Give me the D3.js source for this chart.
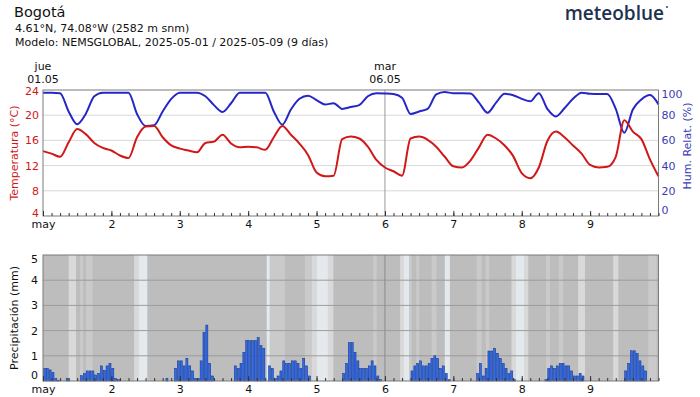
<!DOCTYPE html>
<html>
<head>
<meta charset="utf-8">
<script src="https://cdn.jsdelivr.net/npm/d3@7"></script>
<style>
  body { margin: 0; background: #fff; }
  svg text { font-family: "DejaVu Sans", sans-serif; }
</style>
</head>
<body>
<div id="chart"></div>
<script>
// header texts
var title = "Bogotá";
var subLines = ["4.61°N, 74.08°W (2582 m snm)", "Modelo: NEMSGLOBAL, 2025-05-01 / 2025-05-09 (9 días)"];

// x axis: 9 days, hours 0..216
var dayLabels = ["may", "2", "3", "4", "5", "6", "7", "8", "9"];
var markHours = [0, 120];
var markLabels = [["jue", "01.05"], ["mar", "06.05"]];

// temperature (°C) and humidity (%) every 3 hours
var tempC = [14.3, 13.9, 13.4, 15.7, 17.8, 17.0, 15.6, 14.8,
  14.4, 13.6, 13.2, 16.5, 18.2, 18.3, 16.5, 15.2,
  14.7, 14.4, 14.1, 15.6, 15.8, 16.9, 15.5, 14.9,
  15.0, 14.9, 14.5, 16.5, 18.3, 16.9, 15.5, 13.7,
  10.9, 10.3, 10.4, 16.2, 16.6, 16.3, 15.0, 12.9,
  11.7, 11.1, 10.4, 16.3, 16.6, 16.1, 15.0, 13.4,
  11.9, 11.7, 12.8, 14.9, 16.9, 16.3, 15.2, 13.5,
  10.8, 10.0, 11.7, 15.9, 17.4, 16.5, 15.2, 13.9,
  12.1, 11.7, 11.8, 13.4, 19.2, 17.4, 16.2, 13.0,
  10.3];
var humidity = [97.9, 97.9, 97.5, 83, 72.8, 81, 95, 97.9,
  97.9, 97.9, 97.9, 81, 71.4, 72, 83, 93,
  97.9, 97.9, 97.9, 95, 88, 82.5, 89.5, 97.9,
  97.9, 97.9, 97.9, 83, 72.5, 84.5, 93, 95.5,
  92, 88.5, 89.5, 85, 86.5, 88, 95, 97.4,
  97.2, 96.8, 93.9, 81, 83, 85, 96.5, 98.4,
  97.4, 97.4, 97.2, 90, 82, 90, 97, 95.8,
  93, 91, 97.5, 85, 79, 85.5, 93, 97.9,
  97, 96.8, 96.8, 85, 66, 84.5, 92.5, 96,
  88.6];

// hourly precipitation (mm), one row per day
var precip = [].concat(
  [0.5, 0.5, 0.44, 0.33, 0.1, 0.03, 0, 0, 0.1, 0, 0, 0, 0, 0.21, 0.3, 0.4, 0.4, 0.4, 0.24, 0.3, 0.6, 0.42, 0.6, 0.7],
  [0.5, 0.1, 0.05, 0, 0, 0, 0, 0, 0, 0, 0, 0, 0, 0, 0, 0, 0, 0, 0, 0.1, 0, 0, 0.5, 0.8],
  [0.8, 0.6, 0.9, 0.6, 0.4, 0.1, 0.1, 0.8, 1.93, 2.22, 0.7, 0.2, 0, 0, 0, 0, 0, 0, 0, 0.6, 0.5, 0.7, 1.14, 1.6],
  [1.6, 1.6, 1.6, 1.72, 1.4, 1.3, 0, 0.6, 0.5, 0.1, 0.2, 0.4, 0.8, 0.7, 0.7, 0.8, 0.8, 0.7, 0.5, 0.9, 0.6, 0.2, 0, 0],
  [0, 0, 0, 0, 0, 0, 0, 0, 0, 0.3, 0.7, 1.52, 1.52, 1.14, 0.8, 0.5, 0.5, 0.5, 0.6, 0.8, 0.6, 0.2, 0.05, 0],
  [0, 0, 0, 0, 0, 0, 0, 0, 0, 0.4, 0.6, 0.7, 0.8, 0.6, 0.6, 0.7, 0.9, 1.0, 0.9, 0.5, 0.6, 0.3, 0.05, 0],
  [0, 0, 0, 0, 0, 0, 0, 0, 0.3, 0.7, 0.2, 0.5, 1.19, 1.19, 1.3, 1.1, 0.9, 0.7, 0.5, 0.3, 0.4, 0.05, 0, 0],
  [0, 0, 0, 0, 0, 0, 0, 0, 0.05, 0.5, 0.6, 0.5, 0.6, 0.7, 0.7, 0.6, 0.6, 0.4, 0.2, 0.2, 0.3, 0.2, 0, 0],
  [0, 0, 0, 0, 0, 0, 0, 0, 0, 0, 0, 0, 0.4, 0.7, 1.2, 1.2, 1.1, 0.8, 0.6, 0.4, 0, 0, 0, 0]
);

// sunny spells behind precipitation (hour from, hour to, brightness 1..3)
var sunFrom = [9, 13, 15.1, 32, 33.5, 78.5, 79.6, 91.9, 94.3, 96, 100, 115.9, 125.3, 126.5, 128.5, 131, 136.4, 141, 152.2, 155.4, 164.4, 166, 169, 176.5, 181, 187.8, 200.1, 212.4];
var sunTo = [11.6, 14.1, 17.4, 33.5, 36.6, 79.6, 84.9, 94.3, 96, 100, 101.9, 117.1, 126.5, 128.5, 129.4, 132, 138.1, 142.8, 153.9, 156.6, 166, 169, 170.3, 177.9, 182.5, 190.2, 201.9, 215.3];
var sunLevel = [2, 1, 1, 2, 3, 3, 1, 1, 2, 3, 2, 1, 2, 3, 1, 1, 1, 3, 1, 1, 2, 3, 2, 1, 1, 2, 2, 1];

var tempTicks = [4, 8, 12, 16, 20, 24];
var humTicks = [0, 20, 40, 60, 80, 100];
var precipTicks = [0, 1, 2, 3, 4, 5];

var svgWidth = 700;
var svgHeight = 397;
var red = "#d01818";
var blue = "#2626c8";
var shades = ["#bdbdbd", "#cacaca", "#d9d9d9", "#e4e9ee"];

var svg = d3.select("#chart")
  .append("svg")
  .attr("width", svgWidth)
  .attr("height", svgHeight);

// header
svg.append("text").attr("x", 14).attr("y", 17).attr("font-size", "14.5px").attr("fill", "#111").text(title);
subLines.forEach(function (s, i) {
  svg.append("text").attr("x", 15).attr("y", 32 + i * 13.5).attr("font-size", "11px").attr("fill", "#111").text(s);
});
svg.append("text").attr("x", 664).attr("y", 20).attr("text-anchor", "end")
  .attr("font-size", "19px").attr("font-weight", 600)
  .style("font-family", "'Open Sans', Lato, sans-serif")
  .attr("fill", "#1d3150").text("meteoblue");
svg.append("circle").attr("cx", 667).attr("cy", 7).attr("r", 0.9).attr("fill", "#1d3150");

var x = d3.scaleLinear().domain([0, 216]).range([43, 658.5]);
var yT = d3.scaleLinear().domain([4, 24]).range([216, 90]);
var yH = d3.scaleLinear().domain([0, 100]).range([216, 90]);
var yP = d3.scaleLinear().domain([0, 5]).range([381, 255]);

function timeAxes(y0) {
  svg.append("g")
    .attr("transform", `translate(0, ${y0})`)
    .call(d3.axisBottom(x).tickValues(d3.range(0, 217, 3)).tickSize(-3).tickFormat(""))
    .call(g => g.select(".domain").remove())
    .call(g => g.selectAll("line").attr("stroke", "#333"));
  svg.append("g")
    .attr("transform", `translate(0, ${y0})`)
    .call(d3.axisBottom(x).tickValues(d3.range(0, 216, 24)).tickSize(-5).tickPadding(4)
      .tickFormat((d, i) => dayLabels[i]))
    .call(g => g.select(".domain").remove())
    .call(g => g.selectAll("line").attr("stroke", "#333"))
    .call(g => g.selectAll("text").attr("font-size", "11px").attr("fill", "#111")
      .style("font-family", "'DejaVu Sans', sans-serif"));
}

// ---------- top chart: temperature & humidity ----------
var topG = svg.append("g");
topG.selectAll(".grid").data(tempTicks.slice(1, -1)).enter().append("line")
  .attr("x1", x(0)).attr("x2", x(216))
  .attr("y1", d => yT(d)).attr("y2", d => yT(d))
  .attr("stroke", "#d8d8d8");
topG.append("line")
  .attr("x1", x(120)).attr("x2", x(120)).attr("y1", yT(24)).attr("y2", yT(4))
  .attr("stroke", "#9a9a9a");

markHours.forEach(function (h, i) {
  svg.append("text").attr("x", x(h)).attr("y", 70).attr("text-anchor", "middle")
    .attr("font-size", "11px").attr("fill", "#111").text(markLabels[i][0]);
  svg.append("text").attr("x", x(h)).attr("y", 83).attr("text-anchor", "middle")
    .attr("font-size", "11px").attr("fill", "#111").text(markLabels[i][1]);
});

var lineT = d3.line().x((d, i) => x(i * 3)).y(d => yT(d)).curve(d3.curveMonotoneX);
var lineH = d3.line().x((d, i) => x(i * 3)).y(d => yH(d)).curve(d3.curveMonotoneX);
topG.append("path").datum(humidity).attr("d", lineH)
  .attr("fill", "none").attr("stroke", blue).attr("stroke-width", 2);
topG.append("path").datum(tempC).attr("d", lineT)
  .attr("fill", "none").attr("stroke", red).attr("stroke-width", 2);

topG.append("rect").attr("x", x(0)).attr("y", yT(24)).attr("width", x(216) - x(0)).attr("height", yT(4) - yT(24))
  .attr("fill", "none").attr("stroke", "#7a7a7a");

svg.append("g").attr("transform", `translate(${x(0)}, 0)`)
  .call(d3.axisLeft(yT).tickValues(tempTicks).tickSize(0).tickPadding(4))
  .call(g => g.select(".domain").remove())
  .call(g => g.selectAll("text").attr("font-size", "11px").attr("fill", red)
    .style("font-family", "'DejaVu Sans', sans-serif")
    .attr("dy", d => d === 24 ? "0.42em" : d === 4 ? "0.08em" : "0.32em"));

svg.append("g").attr("transform", `translate(${x(216)}, 0)`)
  .call(d3.axisRight(yH).tickValues(humTicks).tickSize(0).tickPadding(3))
  .call(g => g.select(".domain").remove())
  .call(g => g.selectAll("text").attr("font-size", "11px").attr("fill", "#3b3bb4")
    .style("font-family", "'DejaVu Sans', sans-serif")
    .attr("dy", d => d === 100 ? "0.7em" : d === 0 ? "-0.2em" : "0.32em"));

timeAxes(yT(4));

svg.append("text").attr("transform", "translate(18, 153) rotate(-90)")
  .attr("text-anchor", "middle").attr("font-size", "11px").attr("fill", red).text("Temperatura (°C)");
svg.append("text").attr("transform", "translate(691, 146) rotate(-90)")
  .attr("text-anchor", "middle").attr("font-size", "11px").attr("fill", "#3b3bb4").text("Hum. Relat. (%)");

// ---------- bottom chart: precipitation ----------
var bot = svg.append("g");
bot.append("rect").attr("x", x(0)).attr("y", yP(5)).attr("width", x(216) - x(0)).attr("height", yP(0) - yP(5))
  .attr("fill", shades[0]);
bot.selectAll(".sun").data(sunFrom).enter().append("rect")
  .attr("x", (d, i) => x(d)).attr("width", (d, i) => x(sunTo[i]) - x(d))
  .attr("y", yP(5)).attr("height", yP(0) - yP(5))
  .attr("fill", (d, i) => shades[sunLevel[i]]);
bot.selectAll(".pgrid").data(precipTicks.slice(1, -1)).enter().append("line")
  .attr("x1", x(0)).attr("x2", x(216))
  .attr("y1", d => yP(d)).attr("y2", d => yP(d))
  .attr("stroke", "#9c9c9c");
bot.append("line")
  .attr("x1", x(120)).attr("x2", x(120)).attr("y1", yP(5)).attr("y2", yP(0))
  .attr("stroke", "#8a8a8a");

var step = x(1) - x(0);
var precipHours = precip.map((v, i) => ({ h: i, v: v })).filter(d => d.v > 0);
bot.selectAll(".bar").data(precipHours).enter().append("rect")
  .attr("x", d => x(d.h) + 0.4)
  .attr("width", step - 0.8)
  .attr("y", d => yP(d.v))
  .attr("height", d => yP(0) - yP(d.v))
  .attr("fill", "#2f6cea")
  .attr("stroke", "#0f2f8c")
  .attr("stroke-width", 0.5);

bot.append("rect").attr("x", x(0)).attr("y", yP(5)).attr("width", x(216) - x(0)).attr("height", yP(0) - yP(5))
  .attr("fill", "none").attr("stroke", "#7a7a7a");

svg.append("g").attr("transform", `translate(${x(0)}, 0)`)
  .call(d3.axisLeft(yP).tickValues(precipTicks).tickSize(0).tickPadding(5).tickFormat(d3.format("d")))
  .call(g => g.select(".domain").remove())
  .call(g => g.selectAll("text").attr("font-size", "11px").attr("fill", "#111")
    .style("font-family", "'DejaVu Sans', sans-serif")
    .attr("dy", d => d === 5 ? "0.65em" : d === 0 ? "-0.2em" : "0.32em"));

timeAxes(yP(0));

svg.append("text").attr("transform", "translate(18, 318) rotate(-90)")
  .attr("text-anchor", "middle").attr("font-size", "11px").attr("fill", "#111").text("Precipitación (mm)");
</script>
</body>
</html>
